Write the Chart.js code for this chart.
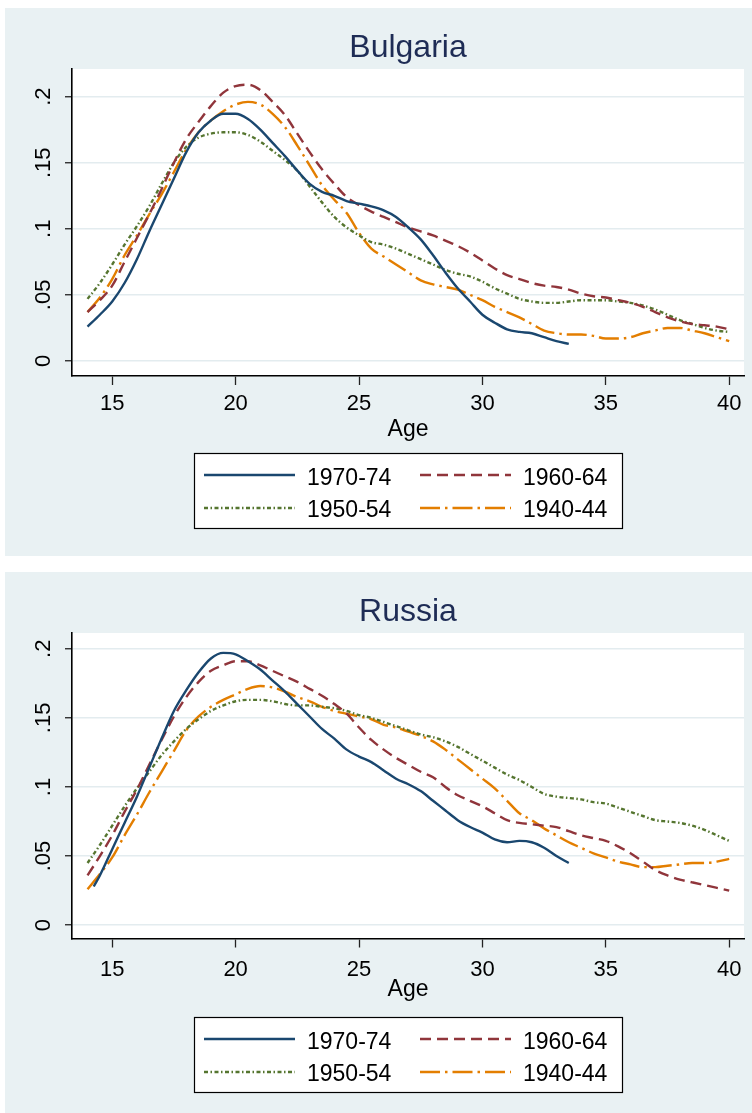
<!DOCTYPE html>
<html><head><meta charset="utf-8">
<script src="https://cdn.jsdelivr.net/npm/chart.js@4.4.0/dist/chart.umd.min.js"></script>
<style>
html,body{margin:0;padding:0;background:#fff;width:752px;height:1113px;overflow:hidden;}
.panel{position:absolute;left:5px;width:747px;background:#E9F1F3;}
canvas{display:block;}
</style></head><body>
<div class="panel" style="top:8px;height:548px"><canvas id="c1" width="747" height="548" style="width:747px;height:548px"></canvas></div>
<div class="panel" style="top:572px;height:541px"><canvas id="c2" width="747" height="541" style="width:747px;height:541px"></canvas></div>
<script>
// ---- data ----
const ages = [14,14.5,15,15.5,16,16.5,17,17.5,18,18.5,19,19.5,20,20.5,21,21.5,22,22.5,23,23.5,24,24.5,25,25.5,26,26.5,27,27.5,28,28.5,29,29.5,30,30.5,31,31.5,32,32.5,33,33.5,34,34.5,35,35.5,36,36.5,37,37.5,38,38.5,39,39.5,40];
const agesBg7074 = [14,14.5,15,15.5,16,16.5,17,17.5,18,18.5,19,19.5,20,20.5,21,21.5,22,22.5,23,23.5,24,24.5,25,25.5,26,26.5,27,27.5,28,28.5,29,29.5,30,30.5,31,31.5,32,32.5,33,33.5];
const agesRu7074 = [14.25,14.5,15,15.5,16,16.5,17,17.5,18,18.5,19,19.5,20,20.5,21,21.5,22,22.5,23,23.5,24,24.5,25,25.5,26,26.5,27,27.5,28,28.5,29,29.5,30,30.5,31,31.5,32,32.5,33,33.5];

const seriesLabels = ['1970-74','1960-64','1950-54','1940-44'];

const bg7074 = [0.026,0.035,0.045,0.059,0.077,0.098,0.118,0.138,0.158,0.173,0.182,0.187,0.187,0.183,0.175,0.165,0.155,0.144,0.134,0.128,0.125,0.121,0.119,0.117,0.114,0.109,0.101,0.092,0.080,0.067,0.055,0.045,0.035,0.029,0.024,0.022,0.021,0.018,0.015,0.013];
const bg6064 = [0.037,0.046,0.057,0.075,0.093,0.111,0.130,0.150,0.168,0.181,0.193,0.203,0.208,0.209,0.205,0.196,0.186,0.172,0.158,0.145,0.134,0.124,0.118,0.113,0.109,0.105,0.101,0.098,0.095,0.091,0.087,0.082,0.076,0.070,0.065,0.062,0.059,0.057,0.056,0.054,0.051,0.049,0.048,0.046,0.044,0.041,0.037,0.033,0.030,0.028,0.027,0.026,0.024];
const bg5054 = [0.047,0.059,0.073,0.088,0.102,0.117,0.134,0.150,0.162,0.169,0.172,0.173,0.173,0.171,0.166,0.159,0.152,0.144,0.132,0.120,0.109,0.101,0.095,0.090,0.088,0.085,0.081,0.077,0.073,0.069,0.066,0.064,0.060,0.055,0.051,0.047,0.045,0.044,0.044,0.045,0.046,0.046,0.046,0.045,0.044,0.042,0.039,0.035,0.031,0.028,0.025,0.023,0.022];
const bg4044 = [0.037,0.048,0.062,0.080,0.095,0.111,0.126,0.143,0.160,0.173,0.182,0.189,0.194,0.196,0.194,0.187,0.177,0.163,0.148,0.133,0.122,0.112,0.097,0.085,0.079,0.073,0.067,0.061,0.058,0.056,0.054,0.050,0.046,0.041,0.037,0.033,0.028,0.023,0.021,0.020,0.020,0.019,0.017,0.017,0.018,0.021,0.023,0.025,0.025,0.023,0.021,0.018,0.015];

const ru7074 = [0.028,0.036,0.055,0.074,0.093,0.114,0.135,0.155,0.170,0.183,0.193,0.197,0.196,0.191,0.185,0.177,0.169,0.160,0.151,0.142,0.135,0.127,0.122,0.118,0.112,0.106,0.102,0.097,0.090,0.083,0.076,0.071,0.067,0.062,0.060,0.061,0.060,0.056,0.050,0.045];
const ru6064 = [0.036,0.050,0.065,0.082,0.098,0.116,0.134,0.151,0.165,0.176,0.184,0.188,0.191,0.191,0.188,0.184,0.180,0.176,0.171,0.166,0.160,0.153,0.143,0.134,0.127,0.121,0.116,0.111,0.107,0.100,0.094,0.090,0.086,0.081,0.076,0.074,0.073,0.072,0.071,0.068,0.065,0.063,0.061,0.057,0.052,0.046,0.040,0.036,0.033,0.031,0.029,0.027,0.025];
const ru5054 = [0.045,0.058,0.072,0.086,0.099,0.111,0.123,0.133,0.142,0.149,0.155,0.159,0.162,0.163,0.163,0.162,0.160,0.159,0.159,0.158,0.157,0.155,0.152,0.150,0.147,0.144,0.141,0.138,0.136,0.133,0.129,0.124,0.119,0.114,0.109,0.105,0.100,0.095,0.093,0.092,0.091,0.089,0.088,0.085,0.082,0.079,0.076,0.075,0.074,0.072,0.069,0.065,0.061];
const ru4044 = [0.026,0.037,0.049,0.065,0.080,0.096,0.111,0.126,0.141,0.151,0.158,0.163,0.167,0.171,0.173,0.172,0.169,0.165,0.162,0.158,0.155,0.153,0.151,0.149,0.145,0.143,0.140,0.137,0.133,0.127,0.120,0.113,0.106,0.099,0.090,0.081,0.076,0.070,0.065,0.060,0.056,0.052,0.049,0.046,0.044,0.042,0.042,0.043,0.044,0.045,0.045,0.046,0.048];

const xTicks = [15,20,25,30,35,40];
const yTicks = [0,0.05,0.1,0.15,0.2];
const yTickLabels = ['0','.05','.1','.15','.2'];

// ---- styles ----
const seriesStyles = [
  {color:'#1A476F', dash:[]},
  {color:'#90353B', dash:[11,6]},
  {color:'#55752F', dash:[4,2.5,1.5,2.5]},
  {color:'#E37E00', dash:[20,5,2.5,5]}
];
const FONT = '"Liberation Sans", Arial, sans-serif';

const decor = {
  id:'decor',
  beforeDraw(chart){
    const {ctx, chartArea:a} = chart;
    ctx.save(); ctx.fillStyle='#fff';
    ctx.fillRect(a.left, a.top, a.right-a.left, a.bottom-a.top);
    ctx.restore();
  },
  afterDraw(chart, args, o){
    const {ctx, chartArea:a} = chart;
    ctx.save();
    ctx.font = '32px ' + FONT; ctx.fillStyle = '#1E2C55';
    ctx.textAlign = 'center'; ctx.textBaseline = 'alphabetic';
    ctx.fillText(o.title, (a.left+a.right)/2, o.titleBase);
    // legend
    ctx.fillStyle = '#fff'; ctx.fillRect(o.lx, o.ly, o.lw, o.lh);
    ctx.strokeStyle = '#000'; ctx.lineWidth = 1.2; ctx.setLineDash([]);
    ctx.strokeRect(o.lx+0.5, o.ly+0.5, o.lw, o.lh);
    ctx.font = '23px ' + FONT; ctx.textAlign='left';
    chart.data.datasets.forEach((ds,i)=>{
      const col = i%2, row = Math.floor(i/2);
      const x0 = o.lx + (col ? 226 : 10), x1 = x0 + 91;
      const yl = o.ly + (row ? 55 : 22);
      ctx.strokeStyle = ds.borderColor; ctx.lineWidth = ds.borderWidth;
      ctx.setLineDash(ds.borderDash || []);
      ctx.beginPath(); ctx.moveTo(x0, yl); ctx.lineTo(x1, yl); ctx.stroke();
      ctx.setLineDash([]);
      ctx.fillStyle = '#000';
      ctx.fillText(ds.label, x0 + 103, o.ly + (row ? 64 : 31.5));
    });
    ctx.restore();
  }
};

function makePanel(id, cfg, xsList, ysList){
  const datasets = ysList.map((ys,i)=>({
    label: seriesLabels[i],
    data: xsList[i].map((x,j)=>({x:x, y:ys[j]})),
    borderColor: seriesStyles[i].color,
    borderWidth: 2.4,
    borderDash: seriesStyles[i].dash,
    pointRadius: 0,
    fill: false,
    cubicInterpolationMode: 'monotone'
  }));
  const xAxisH = cfg.ageCenter - cfg.bottom + 13.8;
  const padBottom = cfg.H - cfg.bottom - xAxisH;
  new Chart(document.getElementById(id), {
    type:'line',
    data:{datasets},
    plugins:[decor],
    options:{
      responsive:false, animation:false, devicePixelRatio:1,
      layout:{padding:{top:cfg.top, right:cfg.W-cfg.right, bottom:padBottom, left:0}},
      plugins:{
        legend:{display:false}, title:{display:false}, tooltip:{enabled:false},
        decor:{title:cfg.title, titleBase:cfg.titleBase, lx:189, ly:445, lw:428, lh:75}
      },
      scales:{
        x:{
          type:'linear', min:cfg.xMin, max:cfg.xMax,
          afterBuildTicks:s=>{ s.ticks = xTicks.map(v=>({value:v})); },
          afterFit:s=>{ s.height = xAxisH; },
          ticks:{font:{family:FONT,size:22}, color:'#000', padding:cfg.xPad, maxRotation:0, autoSkip:false, callback:v=>String(v)},
          grid:{drawOnChartArea:false, drawTicks:true, tickLength:9, tickColor:'#222', tickWidth:1.3},
          border:{color:'#000', width:1.6},
          title:{display:true, text:'Age', font:{family:FONT,size:23}, color:'#000', padding:{top:0,bottom:0}}
        },
        y:{
          type:'linear', min:cfg.yMin, max:cfg.yMax,
          afterBuildTicks:s=>{ s.ticks = yTicks.map(v=>({value:v})); },
          afterFit:s=>{ s.width = cfg.left; },
          ticks:{font:{family:FONT,size:22}, color:'#000', padding:5.7, minRotation:90, maxRotation:90, crossAlign:'center', autoSkip:false,
            callback:(v)=>{ const k = yTicks.findIndex(t=>Math.abs(t-v)<1e-9); return k>=0 ? yTickLabels[k] : ''; }},
          grid:{color:'#E3ECEF', lineWidth:1.5, tickLength:7, tickColor:'#222', tickWidth:1.3},
          border:{color:'#000', width:1.6}
        }
      }
    }
  });
}

makePanel('c1',
  {W:747, H:548, top:61, bottom:368, left:67, right:739, yMin:-0.01135, yMax:0.2209, xMin:13.37, xMax:40.6,
   xPad:5.8, ageCenter:422, title:'Bulgaria', titleBase:49},
  [agesBg7074, ages, ages, ages], [bg7074, bg6064, bg5054, bg4044]);

makePanel('c2',
  {W:747, H:541, top:61, bottom:366.5, left:67, right:739, yMin:-0.00964, yMax:0.2114, xMin:13.37, xMax:40.6,
   xPad:9.3, ageCenter:418, title:'Russia', titleBase:49},
  [agesRu7074, ages, ages, ages], [ru7074, ru6064, ru5054, ru4044]);
</script>
</body></html>
